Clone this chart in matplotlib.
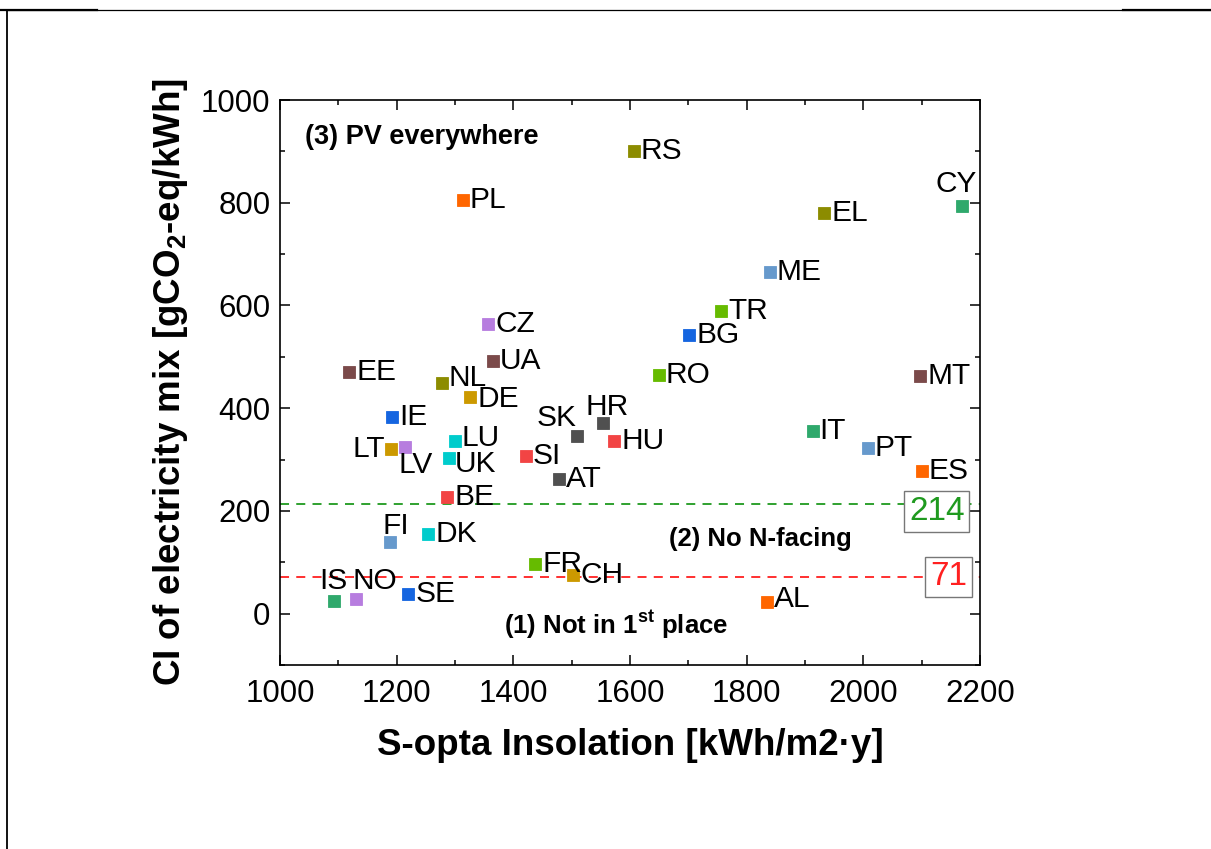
import numpy as np
import matplotlib
matplotlib.use("Agg")
import matplotlib.pyplot as plt
from matplotlib.lines import Line2D

plt.rcParams['font.family'] = ['Liberation Sans', 'DejaVu Sans']
plt.rcParams['mathtext.fontset'] = 'custom'
plt.rcParams['mathtext.rm'] = 'Liberation Sans'
plt.rcParams['mathtext.bf'] = 'Liberation Sans:bold'

# country, insolation [kWh/m2.y], carbon intensity [gCO2-eq/kWh]
countries = ['RS', 'PL', 'CY', 'EL', 'ME', 'TR', 'CZ', 'BG', 'UA', 'EE', 'RO', 'MT',
             'NL', 'DE', 'IE', 'HR', 'SK', 'IT', 'LU', 'HU', 'PT', 'LV', 'LT', 'SI',
             'UK', 'ES', 'AT', 'BE', 'DK', 'FI', 'FR', 'CH', 'SE', 'NO', 'IS', 'AL']
insolation = [1607, 1313, 2169, 1933, 1840, 1756, 1357, 1702, 1365, 1119, 1649, 2098,
              1277, 1326, 1192, 1553, 1509, 1913, 1300, 1573, 2008, 1215, 1191, 1421,
              1289, 2100, 1478, 1287, 1254, 1189, 1438, 1503, 1220, 1131, 1092, 1835]
intensity = [901, 806, 793, 780, 665, 589, 564, 543, 491, 471, 465, 463,
             450, 422, 383, 371, 345, 355, 337, 337, 322, 324, 320, 306,
             303, 278, 263, 228, 156, 139, 97, 76, 39, 28, 24, 22]

# marker colour groups
olive, orange, violet, brown = '#8c8c00', '#ff6600', '#b77ddf', '#7b4a4a'
gold, blue, green, steel = '#cc9900', '#1565e0', '#2fa96c', '#6699cc'
lime, cyan, red, gray = '#66bb00', '#00cccc', '#f24444', '#505050'
colors = {
    'RS': olive, 'EL': olive, 'NL': olive,
    'PL': orange, 'ES': orange, 'AL': orange,
    'CZ': violet, 'LV': violet, 'NO': violet,
    'UA': brown, 'EE': brown, 'MT': brown,
    'DE': gold, 'LT': gold, 'CH': gold,
    'IE': blue, 'BG': blue, 'SE': blue,
    'CY': green, 'IT': green, 'IS': green,
    'ME': steel, 'FI': steel, 'PT': steel,
    'TR': lime, 'RO': lime, 'FR': lime,
    'LU': cyan, 'UK': cyan, 'DK': cyan,
    'SI': red, 'HU': red, 'BE': red,
    'SK': gray, 'HR': gray, 'AT': gray,
}

thresholds = [214, 71]
threshold_colors = ['#1f9a1f', '#ff2020']

# label placement: (dx, dy) in points, horizontal alignment
default_offset = (5.0, 0.0, 'left')
offsets = {
    'CY': (-4, 16, 'center'), 'LT': (-4.5, 0, 'right'), 'LV': (-5, -12.5, 'left'),
    'SK': (0, 13, 'right'), 'HR': (3.5, 11.5, 'center'), 'FI': (4, 11.5, 'center'),
    'IS': (0, 14.5, 'center'), 'NO': (-3, 13, 'left'), 'NL': (5, 3, 'left'),
    'DE': (5, -1.5, 'left'), 'LU': (5, 2, 'left'), 'UK': (4.5, -4.5, 'left'),
    'AL': (5, 2.5, 'left'),
}

fig = plt.figure(figsize=(12.11, 8.49), dpi=100)
ax = fig.add_axes([0.2312, 0.2167, 0.5780, 0.6655])

for c, x, y in zip(countries, insolation, intensity):
    ax.plot(x, y, 's', ms=8.3, color=colors[c], mec=colors[c], mew=0.6, zorder=3)
    dx, dy, ha = offsets.get(c, default_offset)
    ax.annotate(c, (x, y), xytext=(dx, dy), textcoords='offset points',
                ha=ha, va='center', fontsize=21.5, zorder=4)

for val, col in zip(thresholds, threshold_colors):
    ax.axhline(val, color=col, ls=(0, (5, 4)), lw=1.3, zorder=2)

ax.text(2126, 199, '214', color=threshold_colors[0], fontsize=24, ha='center', va='center',
        zorder=5, bbox=dict(boxstyle='square,pad=0.14', fc='white', ec='#777777', lw=1.0))
ax.text(2146, 72, '71', color=threshold_colors[1], fontsize=24, ha='center', va='center',
        zorder=5, bbox=dict(boxstyle='square,pad=0.14', fc='white', ec='#777777', lw=1.0))

ax.text(1043, 928, '(3) PV everywhere', fontsize=19.5, fontweight='bold', va='center')
ax.text(1667, 146, '(2) No N-facing', fontsize=18.5, fontweight='bold', va='center')
ax.text(1384, -22, r'(1) Not in 1$^{\mathbf{st}}$ place', fontsize=18.5, fontweight='bold',
        va='center')

ax.set_xlim(1000, 2200)
ax.set_ylim(-100, 1000)
ax.set_xticks(np.arange(1000, 2201, 200))
ax.set_xticks(np.arange(1100, 2200, 200), minor=True)
ax.set_yticks(np.arange(0, 1001, 200))
ax.set_yticks(np.arange(-100, 1000, 200), minor=True)
ax.tick_params(which='both', direction='in', top=True, right=True, width=1.1)
ax.tick_params(which='major', length=7, labelsize=22.5, pad=7)
ax.tick_params(axis='x', which='major', pad=10)
ax.tick_params(which='minor', length=3.5)
for s in ax.spines.values():
    s.set_linewidth(1.2)

ax.set_xlabel('S-opta Insolation [kWh/m2·y]', fontsize=26.5, fontweight='bold', labelpad=14)
ax.set_ylabel(r'CI of electricity mix [gCO$_\mathbf{2}$-eq/kWh]', fontsize=26.5,
              fontweight='bold', labelpad=8)

# page frame fragments
W, H = 1211, 849
fig.add_artist(Line2D([6 / W, 1], [1 - 9.5 / H] * 2, color='black', lw=0.9))
fig.add_artist(Line2D([0, 97 / W], [1 - 10 / H] * 2, color='black', lw=1.6))
fig.add_artist(Line2D([1123 / W, 1], [1 - 10 / H] * 2, color='black', lw=1.6))
fig.add_artist(Line2D([6.5 / W] * 2, [0, 1 - 9.5 / H], color='black', lw=1.3))

fig.savefig('out.png', dpi=100)
